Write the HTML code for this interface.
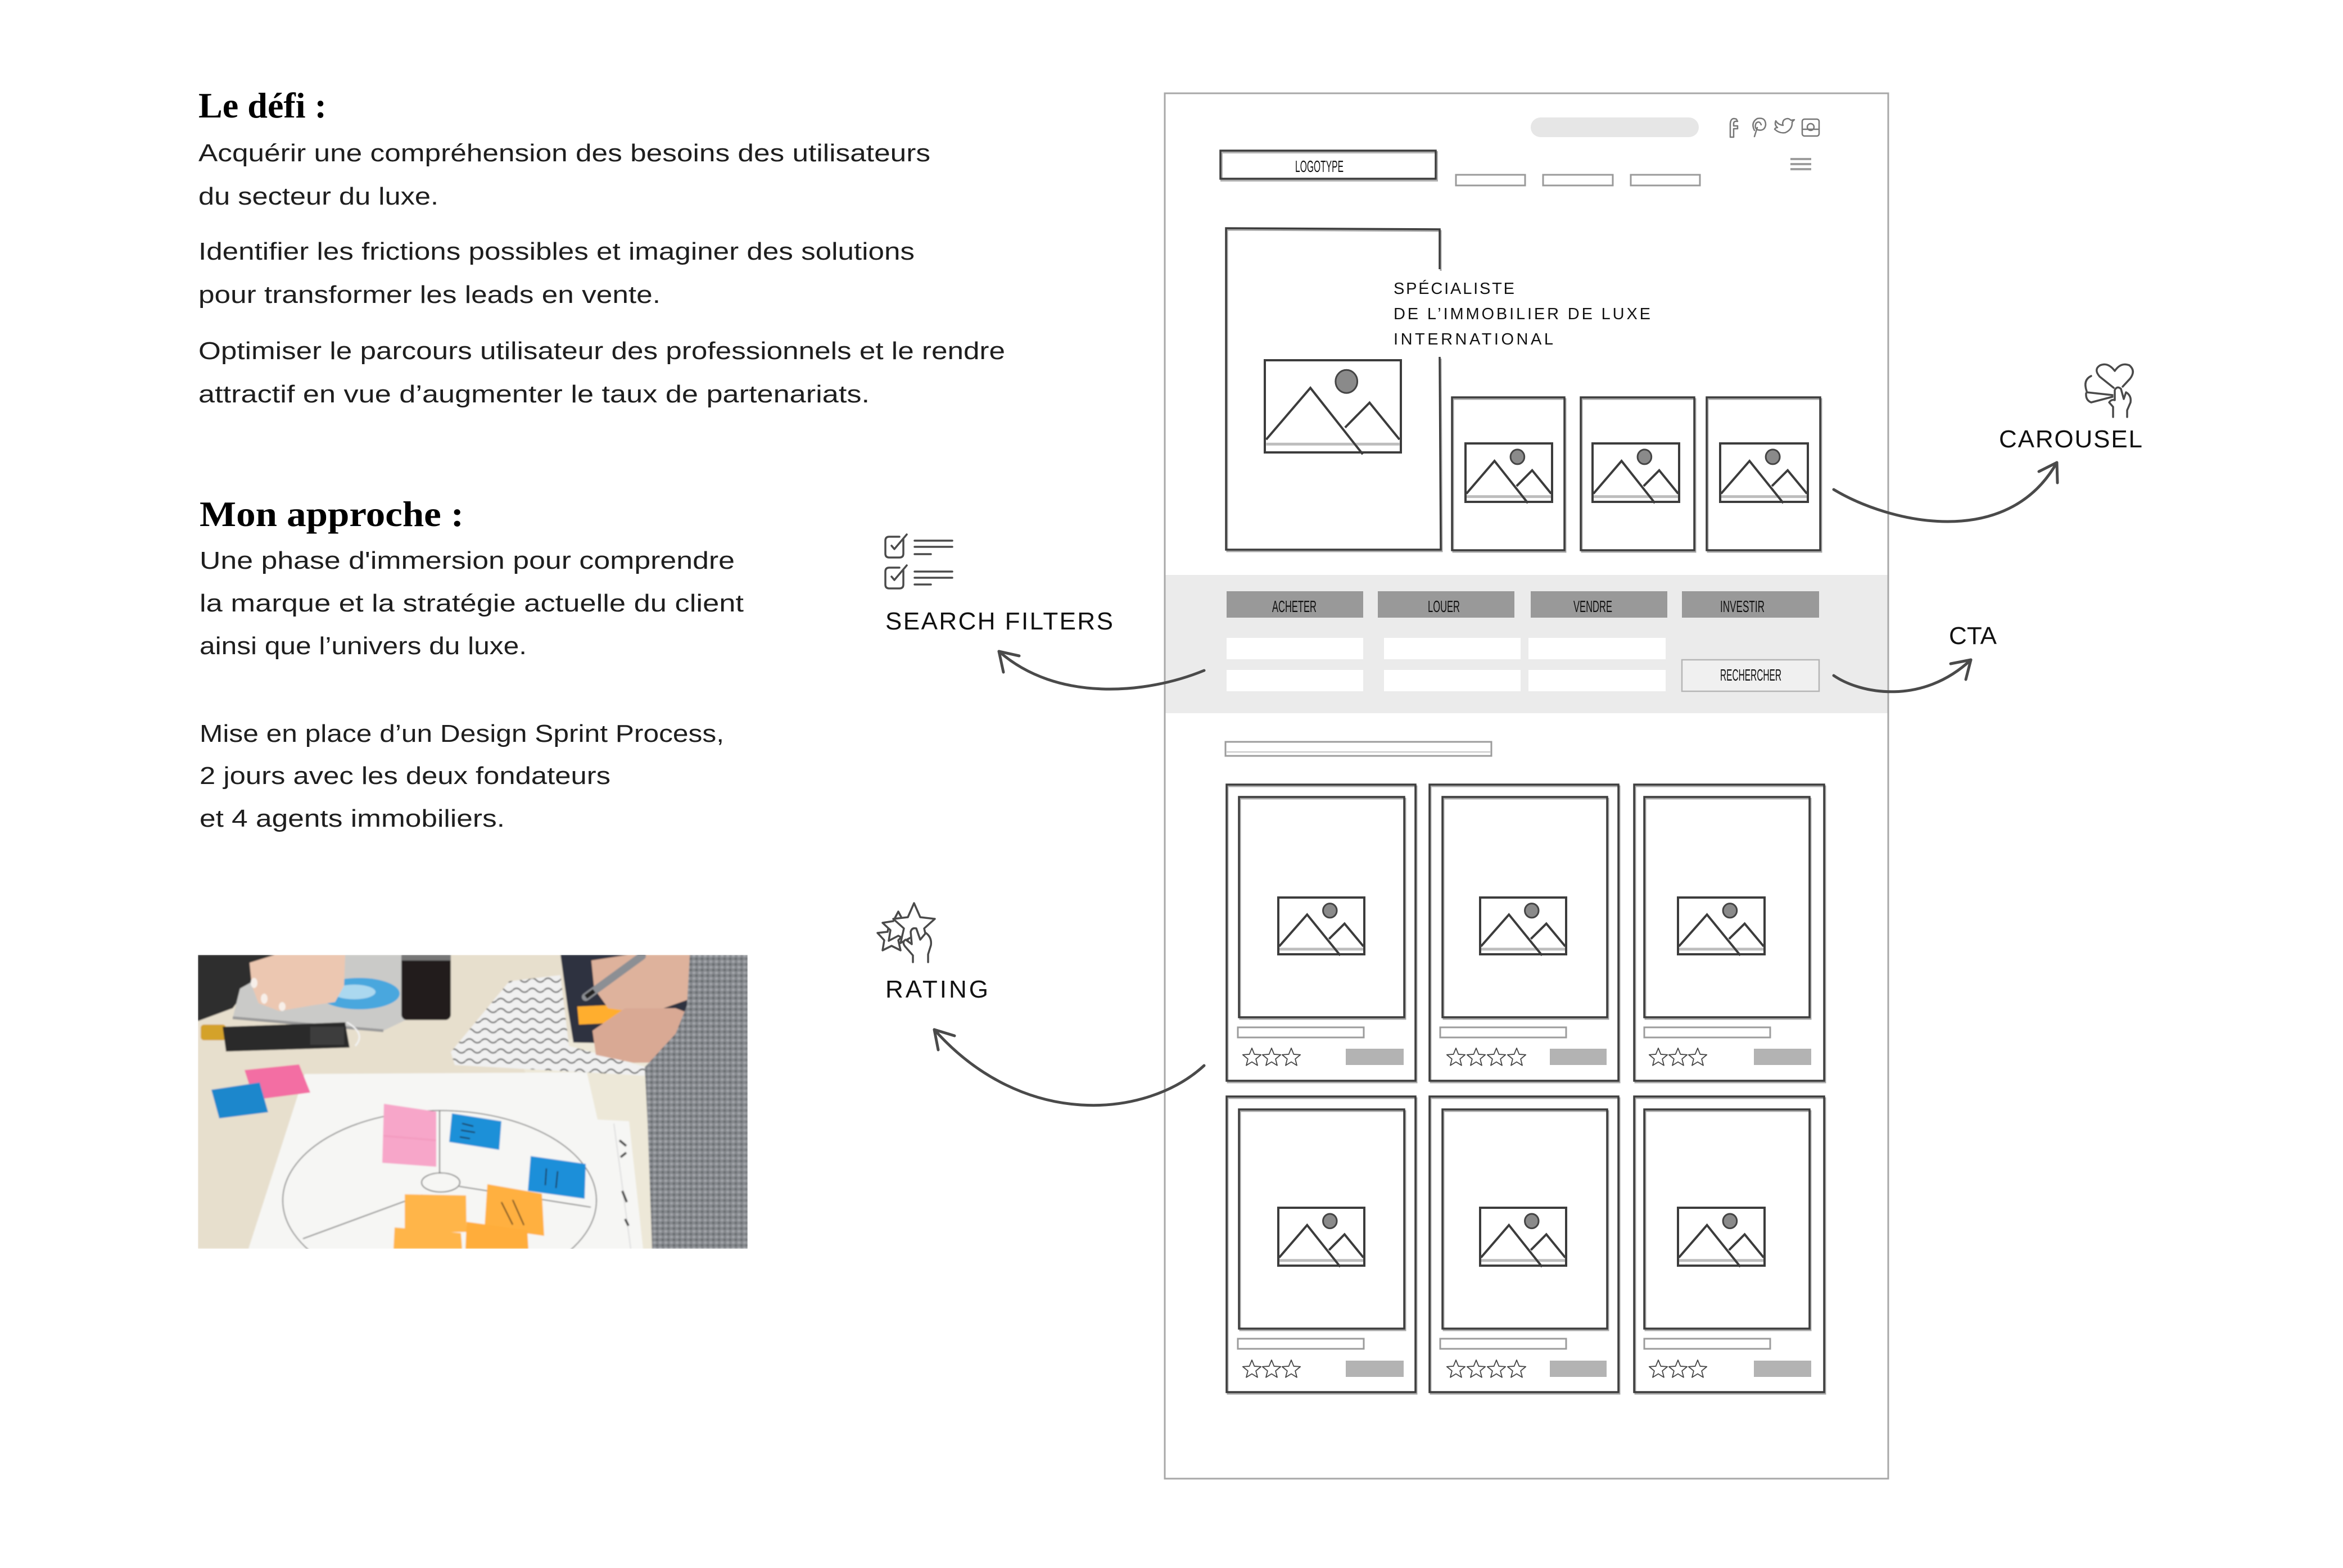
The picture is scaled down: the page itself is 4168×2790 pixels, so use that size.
<!DOCTYPE html>
<html><head><meta charset="utf-8"><style>
html,body{margin:0;padding:0;background:#fff}
svg{display:block}
.b{font-family:"Liberation Sans",sans-serif;font-size:44px;fill:#1e1e1e}
.h{font-family:"Liberation Serif",serif;font-weight:bold;font-size:64px;fill:#000}
.lab{font-family:"Liberation Sans",sans-serif;font-size:44px;fill:#111}
.wf{font-family:"Liberation Sans",sans-serif;font-size:29px;fill:#111}
.sk{fill:none;stroke:#3d3d3d;stroke-width:3.5}
.skl{fill:none;stroke:#a8a8a8;stroke-width:3}
.arr{fill:none;stroke:#4a4a4a;stroke-width:5;stroke-linecap:round;stroke-linejoin:round}
.ic{fill:none;stroke:#4a4a4a;stroke-width:3.5;stroke-linecap:round;stroke-linejoin:round}
.soc{fill:none;stroke:#777;stroke-width:2.5;stroke-linecap:round;stroke-linejoin:round}
</style></head><body>
<svg width="4168" height="2790" viewBox="0 0 4168 2790" xmlns="http://www.w3.org/2000/svg">
<defs>
<symbol id="img" viewBox="0 0 100 100" preserveAspectRatio="none" overflow="visible">
<line x1="1" y1="91" x2="99" y2="91" stroke="#bdbdbd" stroke-width="5" vector-effect="non-scaling-stroke"/>
<rect x="0" y="0" width="100" height="100" fill="none" stroke="#3c3c3c" stroke-width="4" vector-effect="non-scaling-stroke"/>
<polyline points="1,86 33.5,30 72,102" fill="none" stroke="#3c3c3c" stroke-width="4" vector-effect="non-scaling-stroke"/>
<polyline points="59,73 77,46 99,86" fill="none" stroke="#3c3c3c" stroke-width="4" vector-effect="non-scaling-stroke"/>
<ellipse cx="60" cy="23" rx="8" ry="12.5" fill="#8a8a8a" stroke="#444" stroke-width="3" vector-effect="non-scaling-stroke"/>
</symbol>
<path id="star" d="M0,-17 L4.41,-6.07 L16.17,-5.25 L7.13,2.32 L9.99,13.75 L0,7.5 L-9.99,13.75 L-7.13,2.32 L-16.17,-5.25 L-4.41,-6.07 Z" fill="#fff" stroke="#444" stroke-width="1.8" stroke-linejoin="round"/>
<clipPath id="pc"><rect x="0" y="0" width="978" height="523"/></clipPath>
<pattern id="dood" width="28" height="18" patternUnits="userSpaceOnUse">
<rect width="28" height="18" fill="#f0f0f0"/>
<path d="M0,9 Q7,2 14,9 T28,9" stroke="#2a2a2a" stroke-width="2.2" fill="none"/>
</pattern>
<pattern id="knit" width="10" height="10" patternUnits="userSpaceOnUse">
<rect width="10" height="10" fill="#85888d"/>
<rect x="0" y="0" width="5" height="4" fill="#a4a7ac"/>
<rect x="5" y="5" width="4" height="4" fill="#64676c"/>
</pattern>
<filter id="soft"><feGaussianBlur stdDeviation="1.3"/></filter>
</defs>

<rect width="4168" height="2790" fill="#fff"/>

<!-- LEFT TEXT -->
<text class="h" x="353" y="209" textLength="228" lengthAdjust="spacingAndGlyphs">Le défi :</text>
<text class="b" x="353" y="287" textLength="1302" lengthAdjust="spacingAndGlyphs">Acquérir une compréhension des besoins des utilisateurs</text>
<text class="b" x="353" y="364" textLength="427" lengthAdjust="spacingAndGlyphs">du secteur du luxe.</text>
<text class="b" x="353" y="462" textLength="1274" lengthAdjust="spacingAndGlyphs">Identifier les frictions possibles et imaginer des solutions</text>
<text class="b" x="353" y="539" textLength="822" lengthAdjust="spacingAndGlyphs">pour transformer les leads en vente.</text>
<text class="b" x="353" y="639" textLength="1435" lengthAdjust="spacingAndGlyphs">Optimiser le parcours utilisateur des professionnels et le rendre</text>
<text class="b" x="353" y="716" textLength="1194" lengthAdjust="spacingAndGlyphs">attractif en vue d’augmenter le taux de partenariats.</text>

<text class="h" x="355" y="936" textLength="470" lengthAdjust="spacingAndGlyphs">Mon approche :</text>
<text class="b" x="355" y="1012" textLength="952" lengthAdjust="spacingAndGlyphs">Une phase d'immersion pour comprendre</text>
<text class="b" x="355" y="1088" textLength="968" lengthAdjust="spacingAndGlyphs">la marque et la stratégie actuelle du client</text>
<text class="b" x="355" y="1164" textLength="582" lengthAdjust="spacingAndGlyphs">ainsi que l’univers du luxe.</text>
<text class="b" x="355" y="1320" textLength="933" lengthAdjust="spacingAndGlyphs">Mise en place d’un Design Sprint Process,</text>
<text class="b" x="355" y="1395" textLength="731" lengthAdjust="spacingAndGlyphs">2 jours avec les deux fondateurs</text>
<text class="b" x="355" y="1471" textLength="543" lengthAdjust="spacingAndGlyphs">et 4 agents immobiliers.</text>

<!-- PHOTO -->
<g transform="translate(352,1699)" clip-path="url(#pc)">
<g filter="url(#soft)">
<rect x="0" y="0" width="978" height="523" fill="#e7dfcd"/>
<polygon points="560,150 978,150 978,523 700,523" fill="#ede8d8"/>
<polygon points="0,0 270,0 180,25 100,45 62,95 0,118" fill="#2e2e2e"/>
<polygon points="62,112 75,60 150,18 260,0 380,0 378,112 330,135 250,128" fill="#cacac8"/>
<line x1="62" y1="112" x2="330" y2="135" stroke="#9a9a9a" stroke-width="5"/>
<ellipse cx="287" cy="69" rx="72" ry="28" fill="#49a7de"/>
<ellipse cx="278" cy="66" rx="38" ry="13" fill="#d6ecf7" opacity=".7"/>
<polygon points="92,14 137,0 262,0 260,55 244,84 203,90 145,100 108,86 96,55" fill="#ecc7b1"/>
<ellipse cx="100" cy="50" rx="6" ry="9" fill="#f7efe9"/>
<ellipse cx="118" cy="78" rx="6" ry="9" fill="#f7efe9"/>
<ellipse cx="150" cy="92" rx="6" ry="8" fill="#f7efe9"/>
<rect x="362" y="0" width="88" height="116" rx="10" fill="#241f1c"/>
<rect x="362" y="0" width="88" height="10" fill="#777"/>
<rect x="5" y="124" width="45" height="28" rx="6" fill="#d4a22c"/>
<polygon points="44,128 262,120 270,165 50,172" fill="#2b2b2b"/>
<rect x="200" y="128" width="60" height="32" fill="#3d3d3d"/>
<path d="M265,120 Q300,140 280,162" stroke="#f2f2f2" stroke-width="3" fill="none"/>
<polygon points="450,173 554,47 645,36 660,162 795,199 795,215 457,196" fill="url(#dood)"/>
<polygon points="645,0 978,0 978,162 668,156 658,95" fill="#2e3240"/>
<polygon points="675,92 763,88 765,120 678,124" fill="#ffae2e"/>
<polygon points="700,10 765,0 880,0 885,75 800,105 730,95 705,60" fill="#deb29c"/>
<line x1="690" y1="75" x2="790" y2="2" stroke="#8c8f94" stroke-width="14" stroke-linecap="round"/>
<line x1="690" y1="75" x2="705" y2="64" stroke="#222" stroke-width="8"/>
<polygon points="702,135 760,95 850,95 930,125 948,158 905,190 775,192 708,178" fill="#d9a994"/>
<polygon points="875,0 978,0 978,523 808,523 800,300 795,200 850,140 870,90" fill="url(#knit)"/>
<polygon points="190,212 692,209 711,293 767,296 792,523 90,523" fill="#f6f6f4"/>
<line x1="740" y1="300" x2="770" y2="523" stroke="#ddd" stroke-width="2"/>
<path d="M750,330 l12,10 M752,360 l10,-8 M755,420 l8,20 M760,470 l6,12" stroke="#333" stroke-width="4"/>
<ellipse cx="430" cy="437" rx="279" ry="160" stroke="#555" stroke-width="1.6" fill="none"/>
<line x1="430" y1="278" x2="430" y2="392" stroke="#444" stroke-width="1.6"/>
<line x1="399" y1="427" x2="187" y2="505" stroke="#444" stroke-width="1.6"/>
<line x1="465" y1="412" x2="699" y2="449" stroke="#444" stroke-width="1.6"/>
<ellipse cx="432" cy="405" rx="34" ry="17" stroke="#444" stroke-width="1.6" fill="#f6f6f4"/>
<polygon points="331,265 424,279 424,377 328,370" fill="#f7a6c9"/>
<line x1="330" y1="322" x2="424" y2="330" stroke="#f39bbf" stroke-width="3"/>
<polygon points="452,282 540,296 536,347 447,333" fill="#1f90d8"/>
<polygon points="592,358 690,372 688,434 587,420" fill="#1e8fd9"/>
<polygon points="368,426 477,428 478,493 368,495" fill="#ffb54a"/>
<polygon points="515,408 612,425 616,500 510,485" fill="#ffb040"/>
<polygon points="350,485 468,495 470,523 348,523" fill="#ffb54a"/>
<polygon points="478,475 586,490 588,523 476,523" fill="#ffad3a"/>
<polygon points="83,205 180,195 200,245 100,258" fill="#f36ea3"/>
<polygon points="24,240 110,227 125,280 38,291" fill="#1d87cc"/>
<path d="M470,300 l20,5 M468,312 l25,4 M466,324 l18,3 M620,380 l-2,30 M640,385 l-3,30 M540,440 l20,40 M560,436 l20,45" stroke="#1a1a1a" stroke-width="2" fill="none"/>
</g>
</g>

<!-- WIREFRAME FRAME -->
<rect x="2072" y="1023" width="1287" height="246" fill="#ebebeb"/>
<rect x="2072" y="166" width="1287" height="2465" fill="none" stroke="#a8a8a8" stroke-width="3"/>

<!-- header -->
<rect x="2723" y="209" width="299" height="35" rx="17.5" fill="#e6e6e6"/>
<g class="soc">
<path d="M3089,212 Q3079,208 3078,220 L3078,244 L3084,244 L3084,229 L3091,229 L3091,224 L3084,224 L3084,219 Q3085,215 3091,216 Z"/>
<path d="M3121,243 L3126,227 M3121,232 Q3114,218 3126,211 Q3141,208 3141,222 Q3139,234 3127,231 Q3120,228 3124,219 Q3130,214 3133,222"/>
<path d="M3157,230 Q3166,238 3176,236 Q3189,230 3188,217 L3192,213 L3186,214 Q3180,208 3173,214 Q3170,219 3172,223 Q3163,222 3159,215 Q3156,222 3162,227 Q3158,227 3157,230 Z"/>
<rect x="3206" y="212" width="30" height="30" rx="4"/>
<circle cx="3221" cy="226" r="6"/>
<line x1="3208" y1="230" x2="3234" y2="230"/>
</g>
<rect x="2171" y="268" width="383" height="50" fill="none" stroke="#b0b0b0" stroke-width="4" transform="translate(2,3)"/>
<rect x="2171" y="268" width="383" height="50" class="sk" stroke-width="4"/>
<text class="wf" x="2304" y="306" font-size="27" textLength="86" lengthAdjust="spacingAndGlyphs">LOGOTYPE</text>
<g fill="none" stroke="#9a9a9a" stroke-width="3">
<rect x="2590" y="311" width="123" height="19"/>
<rect x="2745" y="311" width="124" height="19"/>
<rect x="2901" y="311" width="123" height="19"/>
</g>
<g stroke="#9d9d9d" stroke-width="4">
<line x1="3185" y1="283" x2="3222" y2="283"/>
<line x1="3185" y1="292" x2="3222" y2="292"/>
<line x1="3185" y1="301" x2="3222" y2="301"/>
</g>

<!-- hero -->
<polyline points="2561,479 2561,408 2181,406 2181,978 2563,978 2561,635" class="skl" transform="translate(2,3)"/>
<polyline points="2561,479 2561,408 2181,406 2181,978 2563,978 2561,635" class="sk"/>
<text class="wf" x="2479" y="523" font-size="30" textLength="215" lengthAdjust="spacing">SPÉCIALISTE</text>
<text class="wf" x="2479" y="568" font-size="30" textLength="457" lengthAdjust="spacing">DE L’IMMOBILIER DE LUXE</text>
<text class="wf" x="2479" y="613" font-size="30" textLength="284" lengthAdjust="spacing">INTERNATIONAL</text>
<use href="#img" x="2250" y="641" width="242" height="164"/>
<g class="skl" transform="translate(2,3)">
<rect x="2583" y="707" width="200" height="272"/>
<rect x="2812" y="707" width="202" height="272"/>
<rect x="3036" y="707" width="202" height="272"/>
</g>
<g class="sk">
<rect x="2583" y="707" width="200" height="272"/>
<rect x="2812" y="707" width="202" height="272"/>
<rect x="3036" y="707" width="202" height="272"/>
</g>
<use href="#img" x="2607" y="789" width="154" height="104"/>
<use href="#img" x="2833" y="789" width="154" height="104"/>
<use href="#img" x="3060" y="789" width="156" height="104"/>

<!-- search band -->
<g fill="#999">
<rect x="2182" y="1052" width="243" height="47"/>
<rect x="2451" y="1052" width="243" height="47"/>
<rect x="2723" y="1052" width="243" height="47"/>
<rect x="2992" y="1052" width="244" height="47"/>
</g>
<text class="wf" x="2263" y="1089" textLength="79" lengthAdjust="spacingAndGlyphs">ACHETER</text>
<text class="wf" x="2540" y="1089" textLength="57" lengthAdjust="spacingAndGlyphs">LOUER</text>
<text class="wf" x="2799" y="1089" textLength="69" lengthAdjust="spacingAndGlyphs">VENDRE</text>
<text class="wf" x="3060" y="1089" textLength="79" lengthAdjust="spacingAndGlyphs">INVESTIR</text>
<g fill="#fff">
<rect x="2182" y="1135" width="243" height="38"/>
<rect x="2462" y="1135" width="243" height="38"/>
<rect x="2719" y="1135" width="244" height="38"/>
<rect x="2182" y="1192" width="243" height="38"/>
<rect x="2462" y="1192" width="243" height="38"/>
<rect x="2719" y="1192" width="244" height="38"/>
</g>
<rect x="2992" y="1174" width="244" height="56" fill="#f0f0f0" stroke="#b5b5b5" stroke-width="2.5"/>
<text class="wf" x="3060" y="1211" font-size="27" textLength="109" lengthAdjust="spacingAndGlyphs">RECHERCHER</text>

<rect x="2180" y="1320" width="473" height="25" fill="none" stroke="#9c9c9c" stroke-width="3"/>
<line x1="2182" y1="1338" x2="2651" y2="1338" stroke="#c4c4c4" stroke-width="2"/>

<!-- cards -->
<g class="skl" transform="translate(2,3)">
<rect x="2182" y="1396" width="336" height="527"/>
<rect x="2543" y="1396" width="336" height="527"/>
<rect x="2907" y="1396" width="338" height="527"/>
<rect x="2204" y="1418" width="294" height="392"/>
<rect x="2566" y="1418" width="293" height="392"/>
<rect x="2925" y="1418" width="294" height="392"/>
<rect x="2182" y="1951" width="336" height="526"/>
<rect x="2543" y="1951" width="336" height="526"/>
<rect x="2907" y="1951" width="338" height="526"/>
<rect x="2204" y="1974" width="294" height="390"/>
<rect x="2566" y="1974" width="293" height="390"/>
<rect x="2925" y="1974" width="294" height="390"/>
</g>
<g class="sk">
<rect x="2182" y="1396" width="336" height="527"/>
<rect x="2543" y="1396" width="336" height="527"/>
<rect x="2907" y="1396" width="338" height="527"/>
<rect x="2204" y="1418" width="294" height="392"/>
<rect x="2566" y="1418" width="293" height="392"/>
<rect x="2925" y="1418" width="294" height="392"/>
<rect x="2182" y="1951" width="336" height="526"/>
<rect x="2543" y="1951" width="336" height="526"/>
<rect x="2907" y="1951" width="338" height="526"/>
<rect x="2204" y="1974" width="294" height="390"/>
<rect x="2566" y="1974" width="293" height="390"/>
<rect x="2925" y="1974" width="294" height="390"/>
</g>
<use href="#img" x="2274" y="1597" width="153" height="101"/>
<use href="#img" x="2633" y="1597" width="153" height="101"/>
<use href="#img" x="2985" y="1597" width="154" height="101"/>
<use href="#img" x="2274" y="2149" width="153" height="103"/>
<use href="#img" x="2633" y="2149" width="153" height="103"/>
<use href="#img" x="2985" y="2149" width="154" height="103"/>
<g fill="none" stroke="#9c9c9c" stroke-width="3">
<rect x="2202" y="1828" width="224" height="18"/>
<rect x="2562" y="1828" width="224" height="18"/>
<rect x="2925" y="1828" width="224" height="18"/>
<rect x="2202" y="2382" width="224" height="18"/>
<rect x="2562" y="2382" width="224" height="18"/>
<rect x="2925" y="2382" width="224" height="18"/>
</g>
<g fill="#b3b3b3">
<rect x="2394" y="1866" width="103" height="29"/>
<rect x="2757" y="1866" width="101" height="29"/>
<rect x="3120" y="1866" width="102" height="29"/>
<rect x="2394" y="2421" width="103" height="29"/>
<rect x="2757" y="2421" width="101" height="29"/>
<rect x="3120" y="2421" width="102" height="29"/>
</g>
<use href="#star" x="2227" y="1882"/><use href="#star" x="2262" y="1882"/><use href="#star" x="2297" y="1882"/>
<use href="#star" x="2590" y="1882"/><use href="#star" x="2626" y="1882"/><use href="#star" x="2662" y="1882"/><use href="#star" x="2698" y="1882"/>
<use href="#star" x="2950" y="1882"/><use href="#star" x="2985" y="1882"/><use href="#star" x="3020" y="1882"/>
<use href="#star" x="2227" y="2437"/><use href="#star" x="2262" y="2437"/><use href="#star" x="2297" y="2437"/>
<use href="#star" x="2590" y="2437"/><use href="#star" x="2626" y="2437"/><use href="#star" x="2662" y="2437"/><use href="#star" x="2698" y="2437"/>
<use href="#star" x="2950" y="2437"/><use href="#star" x="2985" y="2437"/><use href="#star" x="3020" y="2437"/>

<!-- ANNOTATIONS -->
<g class="ic">
<path d="M1607,960 L1607,985 Q1607,992 1600,992 L1582,992 Q1575,992 1575,985 L1575,962 Q1575,955 1582,955 L1600,955"/>
<path d="M1586,971 L1591,977 L1613,951"/>
<line x1="1627" y1="962" x2="1694" y2="962"/>
<line x1="1627" y1="973" x2="1694" y2="973"/>
<line x1="1627" y1="986" x2="1656" y2="986"/>
<path d="M1607,1015 L1607,1040 Q1607,1047 1600,1047 L1582,1047 Q1575,1047 1575,1040 L1575,1017 Q1575,1010 1582,1010 L1600,1010"/>
<path d="M1586,1026 L1591,1032 L1613,1006"/>
<line x1="1627" y1="1017" x2="1694" y2="1017"/>
<line x1="1627" y1="1028" x2="1694" y2="1028"/>
<line x1="1627" y1="1040" x2="1656" y2="1040"/>
</g>
<text class="lab" x="1575" y="1120" textLength="405" lengthAdjust="spacing">SEARCH FILTERS</text>
<path class="arr" d="M2142,1193 C2040,1235 1880,1250 1777,1159"/>
<path class="arr" d="M1813,1167 L1777,1159 L1785,1196"/>

<g class="ic" fill="#fff">
<path fill="#fff" d="M1588,1650 l10,16 l18,2 l-12,13 l4,18 l-16,-8 l-16,8 l3,-18 l-12,-13 l18,-2 Z" transform="translate(-6,-8)"/>
<path fill="#fff" d="M1600,1622 l9,17 l19,3 l-14,13 l3,19 l-17,-9 l-17,9 l3,-19 l-14,-13 l19,-3 Z" transform="translate(-2,0)"/>
<path fill="#fff" d="M1626,1607 L1637,1632 L1663,1635 L1644,1652 L1650,1678 L1626,1665 L1602,1678 L1608,1652 L1589,1635 L1615,1632 Z"/>
<path fill="#fff" d="M1624,1712 L1624,1700 L1610,1684 Q1604,1676 1611,1672 L1622,1680 L1620,1658 Q1622,1650 1630,1652 L1637,1672 L1647,1660 Q1658,1668 1656,1682 L1651,1698 L1651,1712"/>
</g>
<text class="lab" x="1575" y="1775" textLength="183" lengthAdjust="spacing">RATING</text>
<path class="arr" d="M2142,1896 C2040,1990 1820,2010 1662,1832"/>
<path class="arr" d="M1698,1843 L1662,1832 L1669,1868"/>

<g class="ic">
<path d="M3712,696 Q3705,676 3720,669 M3711,700 Q3710,712 3720,716 L3758,706 M3712,698 L3758,703"/>
<path fill="#fff" d="M3760,690 L3735,670 Q3724,657 3736,650 Q3750,644 3762,660 Q3773,644 3788,650 Q3800,660 3789,674 L3776,688"/>
<path fill="#fff" d="M3759,742 L3759,724 L3752,716 Q3756,710 3762,712 L3762,694 Q3766,686 3773,692 L3778,710 L3782,698 Q3792,704 3790,716 L3784,730 L3784,742"/>
</g>
<text class="lab" x="3556" y="796" font-size="43" textLength="255" lengthAdjust="spacing">CAROUSEL</text>
<path class="arr" d="M3262,871 C3360,930 3570,980 3659,823"/>
<path class="arr" d="M3627,839 L3659,823 L3660,859"/>

<text class="lab" x="3467" y="1146" font-size="43" textLength="85" lengthAdjust="spacing">CTA</text>
<path class="arr" d="M3262,1202 C3310,1235 3420,1255 3506,1174"/>
<path class="arr" d="M3470,1181 L3506,1174 L3497,1209"/>
</svg>
</body></html>
